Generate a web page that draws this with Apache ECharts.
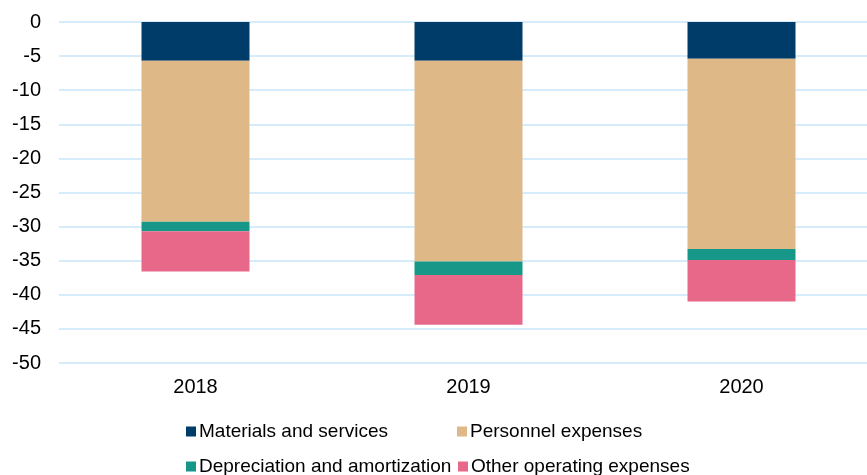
<!DOCTYPE html>
<html>
<head>
<meta charset="utf-8">
<script src="https://cdn.jsdelivr.net/npm/echarts@6/dist/echarts.min.js"></script>
<style>
  html, body { margin: 0; padding: 0; background: #fff; overflow: hidden; }
  #chart { width: 878px; height: 475px; }
</style>
</head>
<body>
<div id="chart"></div>
<script>
const years = ["2018", "2019", "2020"];
const materials = [-5.7, -5.7, -5.4];
const personnel = [-23.6, -29.4, -27.9];
const depreciation = [-1.4, -2.0, -1.6];
const otherExp = [-5.9, -7.3, -6.1];

const names = ["Materials and services", "Personnel expenses", "Depreciation and amortization", "Other operating expenses"];
const colors = ["#003C69", "#DFB888", "#169787", "#E8688A"];

// plot area runs a bit past the right edge of the window, like the original
var chart = echarts.init(document.getElementById("chart"));
const font = "'Liberation Sans', Arial, sans-serif";

function legendAt(name, left, top) {
  return {
    data: [name],
    left: left,
    top: top,
    itemWidth: 10,
    itemHeight: 10,
    itemGap: 0,
    icon: "rect",
    padding: 0,
    textStyle: { fontFamily: font, fontSize: 19, color: "#000", padding: [0, 0, 0, -2] }
  };
}

const option = {
  animation: false,
  color: colors,
  grid: { left: 59, top: 22, right: 0, height: 341, containLabel: false },
  legend: [
    legendAt(names[0], 186, 422),
    legendAt(names[1], 457, 422),
    legendAt(names[2], 186, 457),
    legendAt(names[3], 458, 457)
  ],
  xAxis: {
    type: "category",
    data: years,
    axisLine: { show: false },
    axisTick: { show: false },
    axisLabel: { fontFamily: font, fontSize: 20, color: "#000", margin: 14 }
  },
  yAxis: {
    type: "value",
    min: -50,
    max: 0,
    interval: 5,
    axisLine: { show: false },
    axisTick: { show: false },
    axisLabel: { fontFamily: font, fontSize: 20, color: "#000", margin: 18 },
    splitLine: { lineStyle: { color: "#C8E6FA", width: 1.5 } }
  },
  series: [materials, personnel, depreciation, otherExp].map(function (d, i) {
    return {
      name: names[i],
      type: "bar",
      stack: "total",
      barWidth: 108,
      data: d,
      itemStyle: { color: colors[i] }
    };
  })
};

chart.setOption(option);
</script>
</body>
</html>
